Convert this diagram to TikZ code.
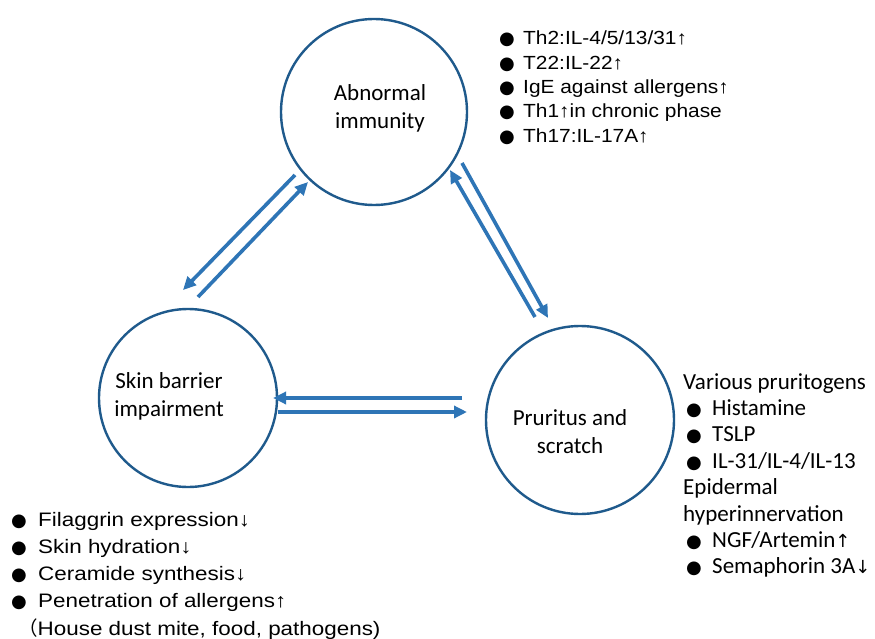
\documentclass[tikz,border=0pt]{standalone}
\usepackage{fontspec}
\setmainfont{Liberation Sans}
\newfontfamily\calfont{Carlito}
\newfontfamily\arialfont[FakeStretch=1.1]{Liberation Sans}
\newfontfamily\arialwide[FakeStretch=1.15]{Liberation Sans}
\newfontfamily\symfont{DejaVu Sans}
\newfontfamily\cjkfont{Noto Sans CJK SC}
\usetikzlibrary{arrows.meta}
\definecolor{circ}{HTML}{1F5A8C}
\definecolor{arr}{HTML}{2E75B6}
\newcommand\bul{{\symfont\fontsize{18}{18}\selectfont ●}}
\newcommand\symup{{\symfont\fontsize{18}{18}\selectfont ↑}}
\newcommand\symdown{{\symfont\fontsize{18}{18}\selectfont ↓}}
\begin{document}
\begin{tikzpicture}[x=1pt,y=-1pt,
  ring/.style={draw=circ,line width=2.4pt,circle,inner sep=0pt},
  link/.style={draw=arr,line width=3.6pt,-{Triangle[length=13pt,width=12pt]}},
  lab/.style={font=\calfont\fontsize{23}{28}\selectfont,align=center,inner sep=0pt,text=black},
  item/.style={anchor=base west,inner sep=0pt,text=black}]
\useasboundingbox (0,0) rectangle (875,639);
\fill[white] (0,0) rectangle (875,639);

% circles
\node[ring,minimum size=186pt] (imm) at (374,112) {};
\node[ring,minimum size=178pt] (skin) at (188,398) {};
\node[ring,minimum size=188pt] (pru) at (580,420) {};

% circle labels
\node[lab] (immlab) at (380,108) {Abnormal\\immunity};
\node[lab] (skinlab) at (169,396) {Skin barrier\\impairment};
\node[lab] (prulab) at (570,432) {Pruritus and\\scratch};

% connector end points
\coordinate (a1) at (295,175); \coordinate (a2) at (183,290);
\coordinate (b1) at (198,297); \coordinate (b2) at (308,182);
\coordinate (c1) at (535,317); \coordinate (c2) at (450,170);
\coordinate (d1) at (462,163); \coordinate (d2) at (548,318);
\coordinate (e1) at (462,398); \coordinate (e2) at (273,398);
\coordinate (f1) at (278,412); \coordinate (f2) at (467,412);
\draw[link] (a1) -- (a2);
\draw[link] (b1) -- (b2);
\draw[link] (c1) -- (c2);
\draw[link] (d1) -- (d2);
\draw[link] (e1) -- (e2);
\draw[link] (f1) -- (f2);

% top list
\foreach \t [count=\i from 0] in {{Th2:IL-4/5/13/31↑},{T22:IL-22↑},{IgE against allergens↑},{Th1↑in chronic phase},{Th17:IL-17A↑}}
  \node[item,font=\arialfont\fontsize{19}{19}\selectfont] (top\i) at (499,{45+24.3*\i}) {\makebox[24pt][l]{\bul}\t};

% bottom-left list
\foreach \t [count=\i from 0] in {{Filaggrin expression↓},{Skin hydration↓},{Ceramide synthesis↓},{Penetration of allergens↑}}
  \node[item,font=\arialwide\fontsize{19.5}{19.5}\selectfont] (bot\i) at (11,{526+27.2*\i}) {\makebox[27pt][l]{\bul}\t};
\node[item,font=\arialwide\fontsize{19.5}{19.5}\selectfont] (bot4) at (18,635) {{\cjkfont （}House dust mite, food, pathogens)};

% right list
\node[item,font=\calfont\fontsize{23}{23}\selectfont] (r0) at (683,389) {Various pruritogens};
\node[item,font=\calfont\fontsize{23}{23}\selectfont] (r1) at (686,415.4) {\makebox[26pt][l]{\bul}Histamine};
\node[item,font=\calfont\fontsize{23}{23}\selectfont] (r2) at (686,441.8) {\makebox[26pt][l]{\bul}TSLP};
\node[item,font=\calfont\fontsize{23}{23}\selectfont] (r3) at (686,468.2) {\makebox[26pt][l]{\bul}IL-31/IL-4/IL-13};
\node[item,font=\calfont\fontsize{23}{23}\selectfont] (r4) at (683,494.6) {Epidermal};
\node[item,font=\calfont\fontsize{23}{23}\selectfont] (r5) at (683,521) {hyperinnervation};
\node[item,font=\calfont\fontsize{23}{23}\selectfont] (r6) at (686,547.4) {\makebox[26pt][l]{\bul}NGF/Artemin\symup};
\node[item,font=\calfont\fontsize{23}{23}\selectfont] (r7) at (686,573.8) {\makebox[26pt][l]{\bul}Semaphorin 3A\symdown};
\end{tikzpicture}
\end{document}
